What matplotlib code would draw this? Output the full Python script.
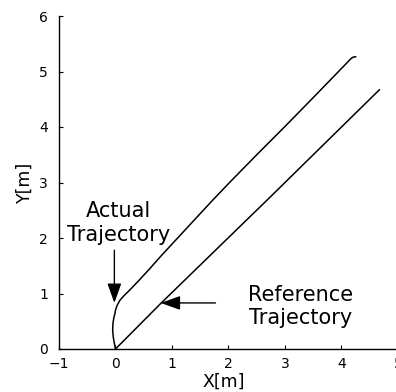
import matplotlib
matplotlib.use("Agg")
import matplotlib.pyplot as plt

# reference path (straight line from origin)
ref_x = [0.0, 0.80, 2.71, 4.67]
ref_y = [0.0, 0.82, 2.71, 4.67]

# measured path of the vehicle
act_x = [0.0, -0.02, -0.04, -0.05, -0.045, -0.03, -0.01, 0.0, 0.03, 0.08,
         0.15, 0.25, 0.4, 0.6, 0.8, 1.0, 1.3, 1.7, 2.0, 2.5, 3.0, 3.5,
         3.9, 4.1, 4.17, 4.21, 4.25]
act_y = [0.0, 0.10, 0.22, 0.34, 0.46, 0.56, 0.64, 0.70, 0.79, 0.88,
         0.96, 1.06, 1.22, 1.44, 1.67, 1.89, 2.22, 2.66, 2.98, 3.50, 4.01,
         4.53, 4.95, 5.16, 5.235, 5.26, 5.265]

xticks = [-1, 0, 1, 2, 3, 4, 5]
yticks = [0, 1, 2, 3, 4, 5, 6]

plt.rcParams['font.family'] = 'DejaVu Sans'

fig = plt.figure(figsize=(3.96, 3.92), dpi=100)
ax = fig.add_axes([59 / 396, 43 / 392, 339 / 396, 333 / 392])

ax.plot(ref_x, ref_y, color='black', lw=1.1)
ax.plot(act_x, act_y, color='black', lw=1.1)

ax.set_xlim(-1, 5)
ax.set_ylim(0, 6)
ax.set_xticks(xticks)
ax.set_yticks(yticks)
ax.tick_params(direction='in', length=3, width=0.8, labelsize=10, pad=6)
ax.tick_params(axis='y', pad=8)

for side in ['top', 'right']:
    ax.spines[side].set_visible(False)
for side in ['left', 'bottom']:
    ax.spines[side].set_linewidth(1.0)

ax.set_xlabel('X[m]', fontsize=12.5)
ax.set_ylabel('Y[m]', fontsize=12.5)
ax.xaxis.set_label_coords(0.487, -0.07)
ax.yaxis.set_label_coords(-0.075, 0.5)

arrow = dict(arrowstyle='-|>,head_length=1.2,head_width=0.43',
             mutation_scale=10, color='black', lw=1.0,
             shrinkA=0, shrinkB=0)

ax.text(0.06, 2.27, 'Actual\nTrajectory', ha='center', va='center',
        fontsize=15, linespacing=1.2)
ax.annotate('', xy=(-0.02, 0.83), xytext=(-0.02, 1.78), arrowprops=arrow)

ax.text(3.27, 0.77, 'Reference\nTrajectory', ha='center', va='center',
        fontsize=15, linespacing=1.2)
ax.annotate('', xy=(0.80, 0.83), xytext=(1.77, 0.83), arrowprops=arrow)

fig.savefig('out.png', dpi=100)
